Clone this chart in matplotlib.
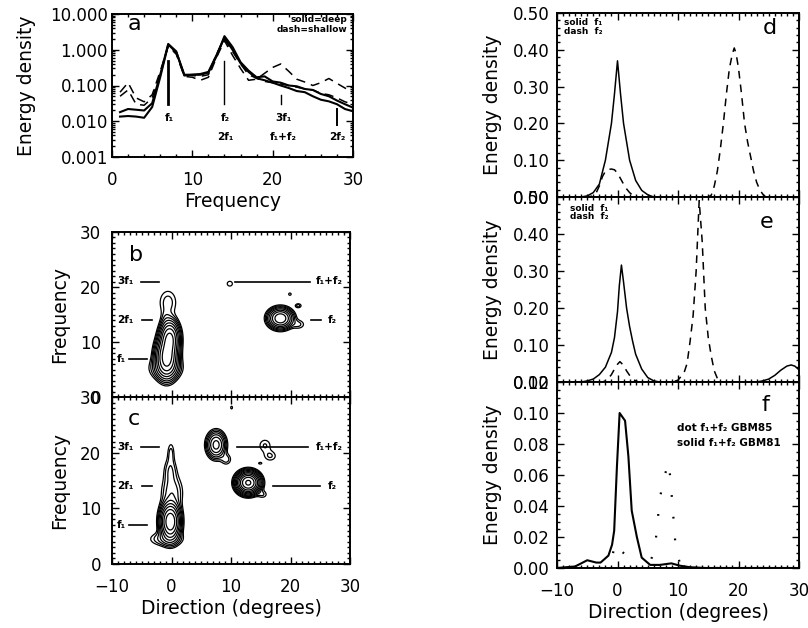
import numpy as np
import matplotlib
matplotlib.use("Agg")
import matplotlib.pyplot as plt
from matplotlib.ticker import FixedLocator, FormatStrFormatter, AutoMinorLocator, LogLocator, NullFormatter
import matplotlib.transforms as mtransforms

plt.rcParams['font.family'] = ['DejaVu Sans']

# ---------------- data: panel a (spectra) ----------------
freq = np.arange(1, 31)
deep_1 = [0.018, 0.022, 0.021, 0.020, 0.032, 0.2, 1.45, 0.9, 0.19, 0.2,
          0.2, 0.23, 0.65, 2.4, 1.2, 0.45, 0.26, 0.17, 0.18, 0.13,
          0.12, 0.1, 0.095, 0.08, 0.075, 0.058, 0.05, 0.038, 0.03, 0.024]
deep_2 = [0.0135, 0.014, 0.0135, 0.0125, 0.025, 0.17, 1.4, 0.85, 0.2, 0.2,
          0.21, 0.24, 0.7, 2.2, 1.0, 0.42, 0.24, 0.16, 0.14, 0.12,
          0.1, 0.085, 0.07, 0.065, 0.05, 0.04, 0.036, 0.03, 0.022, 0.019]
shallow_1 = [0.065, 0.12, 0.045, 0.035, 0.055, 0.25, 1.25, 0.75, 0.18, 0.17,
             0.14, 0.17, 0.6, 1.8, 0.7, 0.3, 0.14, 0.15, 0.22, 0.32,
             0.4, 0.25, 0.15, 0.125, 0.1, 0.12, 0.157, 0.115, 0.085, 0.065]
shallow_2 = [0.05, 0.075, 0.03, 0.028, 0.045, 0.2, 1.35, 0.8, 0.2, 0.19,
             0.18, 0.2, 0.75, 2.0, 0.9, 0.4, 0.2, 0.16, 0.13, 0.12,
             0.11, 0.1, 0.09, 0.08, 0.075, 0.06, 0.055, 0.045, 0.035, 0.03]
# harmonic markers in panel a: frequency, low end, high end
mark_freq = [7, 14, 21, 28]
mark_lo = [0.03, 0.03, 0.03, 0.008]
mark_hi = [0.48, 0.48, 0.056, 0.022]
mark_lw = [2.0, 1.0, 1.0, 1.4]

# ---------------- data: panels b, c (contour blobs) ----------------
# each blob: direction centre, frequency centre, direction width, frequency width, amplitude
b_dir0 = [-0.8, -0.3, -1.0, -0.6, -1.0, 18.3, 21.3, 19.9, 21.3, 9.8]
b_frq0 = [7.2, 10.6, 5.2, 17.2, 14.0, 14.3, 13.2, 18.7, 16.6, 20.6]
b_sdir = [0.9, 0.8, 1.6, 1.1, 0.5, 1.0, 0.8, 0.3, 0.4, 0.5]
b_sfrq = [1.8, 1.6, 1.2, 1.7, 1.2, 0.9, 0.6, 0.3, 0.3, 0.5]
b_amp = [14, 12, 1.0, 0.5, 0.3, 10, 0.45, 0.32, 0.5, 0.36]

c_dir0 = [-0.2, -0.9, 0.1, -0.2, -0.1, 7.5, 9.2, 12.9, 15.3, 15.7, 16.6, 14.9, 10.1]
c_frq0 = [7.6, 4.5, 12.8, 16.8, 20.0, 21.4, 18.8, 14.6, 12.5, 21.3, 19.4, 18.1, 28.1]
c_sdir = [0.8, 1.7, 1.1, 0.7, 0.4, 0.8, 0.6, 0.9, 0.6, 0.8, 0.8, 0.35, 0.25]
c_sfrq = [1.6, 0.8, 2.0, 1.5, 1.3, 1.2, 0.7, 0.9, 0.5, 0.9, 0.7, 0.2, 0.4]
c_amp = [16, 0.8, 0.9, 0.6, 0.45, 5, 0.5, 30, 0.4, 0.42, 0.42, 0.32, 0.3]

contour_levels = [0.25, 0.4, 0.64, 1.0, 1.6, 2.6, 4.1, 6.6, 10.5, 16.8, 26.8]

# ---------------- data: panels d, e, f (directional spectra) ----------------
d_f1_dir = [-10, -6, -5, -4, -3, -2, -1.5, -1, -0.5, 0, 0.5, 1, 1.5, 2, 3, 4, 5, 6, 30]
d_f1_val = [0, 0, 0.003, 0.012, 0.035, 0.1, 0.15, 0.2, 0.28, 0.37, 0.28, 0.2, 0.15, 0.1,
            0.045, 0.018, 0.006, 0, 0]
d_f2_dir = [-10, -5, -4, -3.5, -3, -2.5, -2, -1.5, -1, -0.5, 0, 0.5, 1, 1.5, 2, 2.5, 3, 3.5,
            15, 15.5, 16, 16.5, 17, 17.5, 18, 18.5, 19, 19.3, 19.6, 20, 20.5, 21, 21.5,
            22, 22.5, 23, 23.5, 24, 24.5, 30]
d_f2_val = [0, 0, 0.003, 0.012, 0.03, 0.055, 0.07, 0.075, 0.076, 0.074, 0.065, 0.05, 0.035,
            0.022, 0.012, 0.005, 0.002, 0,
            0, 0.005, 0.03, 0.07, 0.13, 0.2, 0.28, 0.35, 0.39, 0.405, 0.39, 0.35, 0.28, 0.2,
            0.15, 0.11, 0.07, 0.04, 0.02, 0.008, 0, 0]

e_f1_dir = [-10, -6, -5, -4, -3, -2, -1, -0.5, 0, 0.3, 0.65, 1, 1.5, 2, 2.5, 3, 4, 5, 6, 7,
            23, 24, 25, 26, 27, 28, 28.7, 29.3, 30]
e_f1_val = [0, 0, 0.003, 0.008, 0.02, 0.04, 0.08, 0.12, 0.19, 0.26, 0.316, 0.27, 0.2, 0.15,
            0.11, 0.075, 0.035, 0.012, 0.003, 0,
            0, 0.003, 0.008, 0.018, 0.032, 0.043, 0.046, 0.043, 0.033]
e_f2_dir = [-10, -2.5, -2, -1.5, -1, -0.5, 0, 0.4, 1, 1.5, 2, 2.5, 3, 3.5,
            9, 10, 11, 11.5, 12, 12.5, 13, 13.5, 14, 14.5, 15, 15.5, 16, 16.5, 17, 30]
e_f2_val = [0, 0, 0.003, 0.01, 0.02, 0.035, 0.048, 0.055, 0.045, 0.03, 0.018, 0.008, 0.003, 0,
            0, 0.005, 0.025, 0.05, 0.11, 0.18, 0.3, 0.49, 0.38, 0.2, 0.12, 0.07, 0.03, 0.01, 0, 0]

f_gbm81_dir = [-10, -7, -5, -3.5, -2.8, -1.5, -0.9, -0.55, -0.1, 0.35, 1.25, 1.8, 2.35, 3.2,
               4, 5.4, 7, 8.9, 10.3, 12, 14.6, 30]
f_gbm81_val = [0, 0.001, 0.005, 0.0035, 0.0035, 0.008, 0.015, 0.024, 0.065, 0.100, 0.095,
               0.072, 0.037, 0.02, 0.0067, 0.002, 0.002, 0.003, 0.0015, 0.0005, 0, 0]
f_gbm85_dir = [-10, -2, -1, -0.3, 0.3, 1.2, 2, 3, 5, 5.8, 6.3, 7, 7.8, 8.5, 9, 9.6, 10.5, 30]
f_gbm85_val = [0, 0, 0.006, 0.016, 0.012, 0.009, 0.002, 0, 0, 0.008, 0.017, 0.045, 0.06,
               0.068, 0.045, 0.014, 0, 0]

harm_freqs = [7, 14, 21]

# ---------------- figure ----------------
W, H = 808, 628
fig = plt.figure(figsize=(W / 100, H / 100), dpi=100)

TICK_FS = 12
LABEL_FS = 13.5


def add_ax(x0, x1, y0, y1):
    return fig.add_axes([x0 / W, 1 - y1 / H, (x1 - x0) / W, (y1 - y0) / H])


def style(ax, ypad):
    for s in ax.spines.values():
        s.set_linewidth(1.4)
    ax.tick_params(which='both', direction='in', top=True, right=True, labelsize=TICK_FS, width=1)
    ax.tick_params(which='major', length=5)
    ax.tick_params(which='minor', length=2.5)
    ax.tick_params(axis='x', pad=10)
    ax.tick_params(axis='y', pad=ypad)


ax_a = add_ax(112, 353, 14, 157)
ax_b = add_ax(112, 350, 232, 397)
ax_c = add_ax(112, 350, 397, 564)
ax_d = add_ax(557, 799, 13, 197)
ax_e = add_ax(557, 799, 197, 382)
ax_f = add_ax(557, 799, 382, 568)

tb = dict(fontsize=7.5, fontweight='bold')

# ---- panel a ----
ax = ax_a
ax.plot(freq, deep_1, color='k', lw=1.5)
ax.plot(freq, deep_2, color='k', lw=1.5)
ax.plot(freq, shallow_1, color='k', lw=1.1, dashes=(6, 4))
ax.plot(freq, shallow_2, color='k', lw=1.1, dashes=(6, 4))
for fq, lo, hi, lw in zip(mark_freq, mark_lo, mark_hi, mark_lw):
    ax.plot([fq, fq], [lo, hi], color='k', lw=lw)
ax.set_yscale('log')
ax.set_xlim(0, 30)
ax.set_ylim(0.001, 10)
ax.yaxis.set_major_locator(FixedLocator([0.001, 0.01, 0.1, 1, 10]))
ax.yaxis.set_major_formatter(FormatStrFormatter('%.3f'))
ax.yaxis.set_minor_locator(LogLocator(base=10, subs=np.arange(2, 10)))
ax.yaxis.set_minor_formatter(NullFormatter())
ax.xaxis.set_major_locator(FixedLocator([0, 10, 20, 30]))
ax.xaxis.set_minor_locator(AutoMinorLocator(5))
style(ax, 3)
ax.set_xlabel('Frequency', fontsize=LABEL_FS, labelpad=2)
ax.set_ylabel('Energy density', fontsize=LABEL_FS, labelpad=10)
trans = mtransforms.blended_transform_factory(ax.transData, ax.transAxes)
ax.text(7.1, 0.273, 'f₁', ha='center', va='center', transform=trans, **tb)
ax.text(14.1, 0.273, 'f₂', ha='center', va='center', transform=trans, **tb)
ax.text(14.1, 0.14, '2f₁', ha='center', va='center', transform=trans, **tb)
ax.text(21.3, 0.273, '3f₁', ha='center', va='center', transform=trans, **tb)
ax.text(21.3, 0.14, 'f₁+f₂', ha='center', va='center', transform=trans, **tb)
ax.text(28.1, 0.14, '2f₂', ha='center', va='center', transform=trans, **tb)
ax.text(0.095, 0.93, 'a', transform=ax.transAxes, fontsize=16, ha='center', va='center')
ax.text(0.975, 0.965, 'solid=deep', transform=ax.transAxes, ha='right', va='center',
        fontsize=6.5, fontweight='bold')
ax.text(0.975, 0.895, 'dash=shallow', transform=ax.transAxes, ha='right', va='center',
        fontsize=6.5, fontweight='bold')

# ---- panels b, c ----
dgrid = np.linspace(-10, 30, 401)
fgrid = np.linspace(0, 30, 301)
DD, FF = np.meshgrid(dgrid, fgrid)


def field(d0, f0, sd, sf, amp):
    Z = np.zeros_like(DD)
    for a, b, c, e, g in zip(d0, f0, sd, sf, amp):
        Z += g * np.exp(-0.5 * (((DD - a) / c) ** 2 + ((FF - b) / e) ** 2))
    return Z


def contour_panel(ax, Z, letter, letter_pos, sum_line, f2_line):
    ax.contour(DD, FF, Z, levels=contour_levels, colors='k', linewidths=0.9)
    ax.set_xlim(-10, 30)
    ax.set_ylim(0, 30)
    ax.xaxis.set_major_locator(FixedLocator([-10, 0, 10, 20, 30]))
    ax.xaxis.set_minor_locator(AutoMinorLocator(10))
    ax.yaxis.set_major_locator(FixedLocator([0, 10, 20, 30]))
    ax.yaxis.set_minor_locator(AutoMinorLocator(10))
    style(ax, 8)
    ax.set_ylabel('Frequency', fontsize=LABEL_FS, labelpad=8)
    ax.text(letter_pos[0], letter_pos[1], letter, fontsize=16, ha='center', va='center')
    # harmonic guide lines on the left
    ax.plot([-5.1, -2.1], [harm_freqs[2]] * 2, color='k', lw=1.2)
    ax.plot([-5.0, -3.2], [harm_freqs[1]] * 2, color='k', lw=1.2)
    ax.plot([-7.2, -4.2], [harm_freqs[0]] * 2, color='k', lw=1.2)
    ax.text(-7.8, harm_freqs[2], '3f₁', ha='center', va='center', **tb)
    ax.text(-7.8, harm_freqs[1], '2f₁', ha='center', va='center', **tb)
    ax.text(-8.4, harm_freqs[0], 'f₁', ha='center', va='center', **tb)
    ax.plot(sum_line, [harm_freqs[2]] * 2, color='k', lw=1.2)
    ax.plot(f2_line, [harm_freqs[1]] * 2, color='k', lw=1.2)
    ax.text(24.2, harm_freqs[2], 'f₁+f₂', ha='left', va='center', **tb)
    ax.text(27.1, harm_freqs[1], 'f₂', ha='center', va='center', **tb)


contour_panel(ax_b, field(b_dir0, b_frq0, b_sdir, b_sfrq, b_amp), 'b', (-5.9, 25.8),
              [10.7, 23.3], [23.5, 25.2])
ax_b.tick_params(labelbottom=False)
contour_panel(ax_c, field(c_dir0, c_frq0, c_sdir, c_sfrq, c_amp), 'c', (-6.4, 26.1),
              [11.0, 23.0], [17.1, 25.0])
ax_c.set_xlabel('Direction (degrees)', fontsize=LABEL_FS, labelpad=2)

# ---- panels d, e, f ----
for ax in (ax_d, ax_e, ax_f):
    ax.set_xlim(-10, 30)
    ax.xaxis.set_major_locator(FixedLocator([-10, 0, 10, 20, 30]))
    ax.xaxis.set_minor_locator(AutoMinorLocator(10))

ax = ax_d
ax.plot(d_f1_dir, d_f1_val, color='k', lw=1.1)
ax.plot(d_f2_dir, d_f2_val, color='k', lw=1.1, dashes=(5, 4))
ax.set_ylim(0, 0.5)
ax.yaxis.set_major_locator(FixedLocator([0, 0.1, 0.2, 0.3, 0.4, 0.5]))
ax.yaxis.set_major_formatter(FormatStrFormatter('%.2f'))
ax.yaxis.set_minor_locator(AutoMinorLocator(5))
style(ax, 5)
ax.tick_params(labelbottom=False)
ax.set_ylabel('Energy density', fontsize=LABEL_FS, labelpad=8)
ax.text(0.03, 0.946, 'solid  f₁', transform=ax.transAxes, ha='left', va='center',
        fontsize=6.5, fontweight='bold')
ax.text(0.03, 0.897, 'dash  f₂', transform=ax.transAxes, ha='left', va='center',
        fontsize=6.5, fontweight='bold')
ax.text(0.88, 0.92, 'd', transform=ax.transAxes, fontsize=16, ha='center', va='center')

ax = ax_e
ax.plot(e_f1_dir, e_f1_val, color='k', lw=1.1)
ax.plot(e_f2_dir, e_f2_val, color='k', lw=1.1, dashes=(5, 4))
ax.set_ylim(0, 0.5)
ax.yaxis.set_major_locator(FixedLocator([0, 0.1, 0.2, 0.3, 0.4, 0.5]))
ax.yaxis.set_major_formatter(FormatStrFormatter('%.2f'))
ax.yaxis.set_minor_locator(AutoMinorLocator(5))
style(ax, 5)
ax.tick_params(labelbottom=False)
ax.set_ylabel('Energy density', fontsize=LABEL_FS, labelpad=8)
ax.text(0.055, 0.939, 'solid  f₁', transform=ax.transAxes, ha='left', va='center',
        fontsize=6.5, fontweight='bold')
ax.text(0.055, 0.894, 'dash  f₂', transform=ax.transAxes, ha='left', va='center',
        fontsize=6.5, fontweight='bold')
ax.text(0.867, 0.866, 'e', transform=ax.transAxes, fontsize=16, ha='center', va='center')

ax = ax_f
ax.plot(f_gbm81_dir, f_gbm81_val, color='k', lw=1.5)
ax.plot(f_gbm85_dir, f_gbm85_val, color='k', lw=1.6, dashes=(0.8, 9))
ax.set_ylim(0, 0.12)
ax.yaxis.set_major_locator(FixedLocator([0, 0.02, 0.04, 0.06, 0.08, 0.10, 0.12]))
ax.yaxis.set_major_formatter(FormatStrFormatter('%.2f'))
ax.yaxis.set_minor_locator(AutoMinorLocator(4))
style(ax, 5)
ax.set_ylabel('Energy density', fontsize=LABEL_FS, labelpad=8)
ax.set_xlabel('Direction (degrees)', fontsize=LABEL_FS, labelpad=2)
ax.text(0.86, 0.876, 'f', transform=ax.transAxes, fontsize=16, ha='center', va='center')
ax.text(0.497, 0.751, 'dot f₁+f₂ GBM85', transform=ax.transAxes, ha='left', va='center',
        fontsize=7.5, fontweight='bold')
ax.text(0.497, 0.67, 'solid f₁+f₂ GBM81', transform=ax.transAxes, ha='left', va='center',
        fontsize=7.5, fontweight='bold')

fig.savefig('out.png', dpi=100)
